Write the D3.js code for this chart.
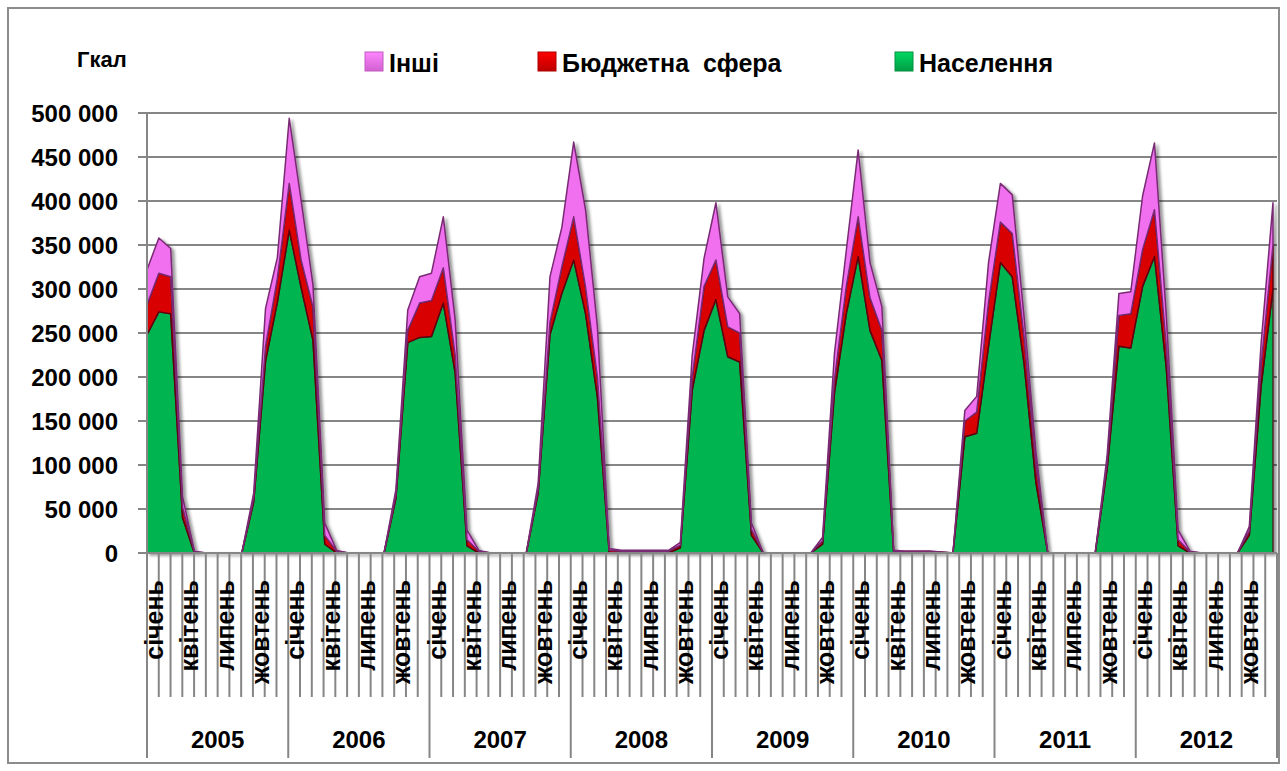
<!DOCTYPE html>
<html lang="uk">
  <head>
    <meta charset="UTF-8" />
    <title>Гкал</title>
    <script src="https://cdn.jsdelivr.net/npm/d3@7"></script>
    <style>
      html,
      body {
        margin: 0;
        padding: 0;
        background: #fff;
      }
      text {
        font-family: 'Liberation Sans', Arial, sans-serif;
        font-weight: bold;
        fill: #000;
      }
    </style>
  </head>
  <body>
    <script>
      // values in thousands of Gcal, 12 months per year
      const years = ['2005', '2006', '2007', '2008', '2009', '2010', '2011', '2012'];
      const months = ['січень', 'лютий', 'березень', 'квітень', 'травень', 'червень',
        'липень', 'серпень', 'вересень', 'жовтень', 'листопад', 'грудень'];

      const naselennia = [
        248, 274, 272, 40, 0, 0, 0, 0, 0, 58, 218, 285,
        367, 302, 242, 10, 0, 0, 0, 0, 0, 62, 239, 245,
        246, 284, 205, 8, 0, 0, 0, 0, 0, 68, 248, 295,
        333, 272, 177, 0, 0, 0, 0, 0, 0, 6, 185, 253,
        288, 223, 217, 20, 0, 0, 0, 0, 0, 10, 182, 272,
        337, 253, 219, 0, 0, 0, 0, 0, 0, 132, 136, 235,
        330, 314, 215, 80, 0, 0, 0, 0, 0, 95, 235, 233,
        303, 337, 210, 8, 0, 0, 0, 0, 0, 20, 190, 300,
      ];
      const biudzhet = [
        34, 44, 42, 12, 1, 0, 0, 0, 0, 4, 17, 27,
        53, 31, 38, 10, 2, 0, 0, 0, 0, 4, 14, 39,
        41, 40, 20, 7, 2, 0, 0, 0, 0, 4, 14, 30,
        49, 30, 23, 3, 2, 2, 2, 2, 2, 3, 15, 50,
        45, 34, 33, 7, 0, 0, 0, 0, 0, 4, 15, 31,
        45, 37, 34, 2, 2, 2, 2, 1, 0, 18, 24, 50,
        46, 49, 30, 20, 0, 0, 0, 0, 0, 7, 35, 39,
        42, 53, 25, 7, 1, 0, 0, 0, 0, 5, 24, 50,
      ];
      const inshi = [
        40, 40, 32, 12, 1, 0, 0, 0, 0, 6, 43, 24,
        74, 68, 25, 14, 1, 0, 0, 0, 0, 6, 23, 30,
        31, 58, 40, 11, 1, 0, 0, 0, 0, 7, 52, 45,
        85, 88, 57, 2, 1, 1, 1, 1, 1, 3, 25, 32,
        65, 34, 22, 7, 0, 0, 0, 0, 0, 4, 30, 41,
        76, 40, 27, 1, 0, 0, 0, 0, 0, 12, 18, 45,
        44, 44, 23, 15, 0, 0, 0, 0, 0, 8, 25, 25,
        61, 76, 35, 11, 1, 0, 0, 0, 0, 5, 25, 48,
      ];
      const yTicks = [0, 50000, 100000, 150000, 200000, 250000, 300000, 350000, 400000, 450000, 500000];

      const seriesNames = ['Населення', 'Бюджетна  сфера', 'Інші'];
      const seriesColors = ['#00b550', '#d80000', '#f070f0'];
      const seriesStrokes = ['#4a2a2a', '#5e0010', '#7a2a74'];

      const width = 1287,
        height = 771;
      const margin = { top: 113, left: 147 };
      const plotW = 1130,
        plotH = 440;

      const rows = naselennia.map((d, i) => ({
        i: i,
        a: d * 1000,
        b: biudzhet[i] * 1000,
        c: inshi[i] * 1000,
      }));
      const stack = d3.stack().keys(['a', 'b', 'c']);
      const layers = stack(rows);

      const svg = d3
        .select('body')
        .append('svg')
        .attr('width', width)
        .attr('height', height);

      const defs = svg.append('defs');
      const shadow = defs.append('filter').attr('id', 'shadow')
        .attr('x', '-5%').attr('y', '-5%').attr('width', '110%').attr('height', '110%');
      shadow.append('feDropShadow')
        .attr('dx', 3).attr('dy', 2).attr('stdDeviation', 1.8)
        .attr('flood-color', '#000').attr('flood-opacity', 0.4);

      // outer frame
      svg.append('rect')
        .attr('x', 8).attr('y', 8)
        .attr('width', 1271).attr('height', 755)
        .attr('fill', 'none')
        .attr('stroke', '#8c8c8c')
        .attr('stroke-width', 2);

      const g = svg.append('g')
        .attr('transform', `translate(${margin.left}, ${margin.top})`);

      const y = d3.scaleLinear().domain([0, 500000]).range([plotH, 0]);
      const idx = d3.range(years.length * months.length);
      const xPt = d3.scalePoint().domain(idx).range([0, plotW - 4]);
      const xBand = d3.scaleBand().domain(idx).range([0, plotW]);

      // gridlines
      g.append('g')
        .selectAll('line')
        .data(yTicks)
        .join('line')
        .attr('x1', -9)
        .attr('x2', plotW)
        .attr('y1', (d) => y(d))
        .attr('y2', (d) => y(d))
        .attr('stroke', '#868686')
        .attr('stroke-width', 2);

      const fmt = (d) => d3.format(',')(d).replace(/,/g, ' ');
      g.append('g')
        .selectAll('text')
        .data(yTicks)
        .join('text')
        .attr('x', -29)
        .attr('y', (d) => y(d))
        .attr('dy', '0.36em')
        .attr('text-anchor', 'end')
        .style('font-size', '24px')
        .text(fmt);

      // areas
      const area = d3
        .area()
        .x((d) => xPt(d.data.i))
        .y0((d) => y(d[0]))
        .y1((d) => y(d[1]));

      g.append('g')
        .attr('filter', 'url(#shadow)')
        .selectAll('path')
        .data(layers)
        .join('path')
        .attr('d', area)
        .attr('fill', (d, k) => seriesColors[k])
        .attr('stroke', (d, k) => seriesStrokes[k])
        .attr('stroke-width', 1.5)
        .attr('stroke-linejoin', 'round');

      // axis lines
      g.append('line')
        .attr('x1', 0).attr('x2', 0)
        .attr('y1', 0).attr('y2', plotH)
        .attr('stroke', '#868686').attr('stroke-width', 2);
      g.append('line')
        .attr('x1', 0).attr('x2', plotW)
        .attr('y1', plotH).attr('y2', plotH)
        .attr('stroke', '#868686').attr('stroke-width', 2);

      // category ticks: months short, years long
      const edges = d3.range(idx.length + 1);
      g.append('g')
        .selectAll('line')
        .data(edges)
        .join('line')
        .attr('x1', (k) => (k < idx.length ? xBand(k) : plotW))
        .attr('x2', (k) => (k < idx.length ? xBand(k) : plotW))
        .attr('y1', plotH)
        .attr('y2', (k) => (k % 12 === 0 ? plotH + 205 : plotH + 144))
        .attr('stroke', '#868686')
        .attr('stroke-width', 2);

      // month labels (every third)
      g.append('g')
        .selectAll('text')
        .data(idx.filter((k) => k % 3 === 0))
        .join('text')
        .attr('transform', (k) =>
          `translate(${xBand(k) + xBand.bandwidth() / 2 + 1}, ${plotH + 27}) rotate(-90)`)
        .attr('dy', '0.37em')
        .attr('text-anchor', 'end')
        .style('font-size', '25px')
        .text((k) => months[k % 12]);

      // year labels
      g.append('g')
        .selectAll('text')
        .data(years)
        .join('text')
        .attr('x', (d, j) => xBand(j * 12) + (xBand.bandwidth() * 12) / 2)
        .attr('y', plotH + 195)
        .attr('text-anchor', 'middle')
        .style('font-size', '24px')
        .text((d) => d);

      // unit
      svg.append('text')
        .attr('x', 77).attr('y', 67)
        .style('font-size', '22px')
        .text('Гкал');

      // legend
      const legendItems = [
        { k: 2, x: 365 },
        { k: 1, x: 538 },
        { k: 0, x: 895 },
      ];
      seriesColors.forEach((c, k) => {
        const gr = defs.append('linearGradient').attr('id', 'lg' + k)
          .attr('x1', 0).attr('y1', 0).attr('x2', 0).attr('y2', 1);
        gr.append('stop').attr('offset', '0%').attr('stop-color', d3.color(c).brighter(0.5));
        gr.append('stop').attr('offset', '100%').attr('stop-color', d3.color(c).darker(0.4));
      });
      const legend = svg.append('g')
        .selectAll('g')
        .data(legendItems)
        .join('g')
        .attr('transform', (d) => `translate(${d.x}, 52)`);
      legend.append('rect')
        .attr('width', 18).attr('height', 19)
        .attr('fill', (d) => `url(#lg${d.k})`)
        .attr('stroke', (d) => d3.color(seriesColors[d.k]).darker(0.6))
        .attr('stroke-width', 1);
      legend.append('text')
        .attr('x', 24).attr('y', 20)
        .style('font-size', '25px')
        .style('white-space', 'pre')
        .text((d) => seriesNames[d.k]);
    </script>
  </body>
</html>
